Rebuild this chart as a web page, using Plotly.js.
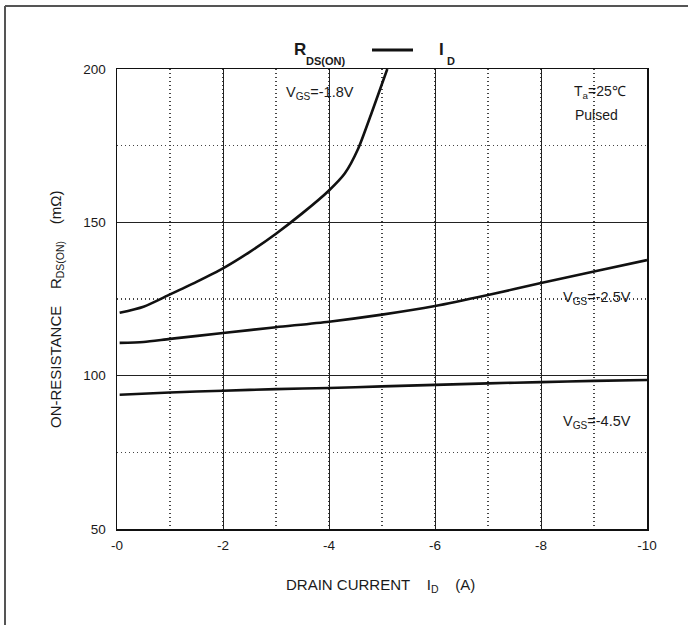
<!DOCTYPE html>
<html><head><meta charset="utf-8">
<script src="https://cdn.plot.ly/plotly-3.0.1.min.js"></script>
<style>html,body{margin:0;padding:0;background:#fff}#chart{width:688px;height:625px}</style>
</head><body><div id="chart"></div>
<script>
// ---- data ----
const xTickVals = [0, -2, -4, -6, -8, -10];
const xTickText = ["-0", "-2", "-4", "-6", "-8", "-10"];
const yTickVals = [50, 100, 150, 200];
const yTickText = ["50", "100", "150", "200"];

const id18 = [-0.05, -0.5, -1, -1.5, -2, -2.5, -3, -3.5, -4, -4.3, -4.55, -4.8, -5.1];
const r18  = [120.5, 122.5, 126.5, 130.6, 135.0, 140.3, 146.3, 153.0, 160.4, 166.0, 174.0, 185.5, 200.0];

const id25 = [-0.05, -0.5, -1, -2, -3, -4, -5, -6, -7, -8, -9, -10];
const r25  = [110.7, 111.0, 112.0, 113.9, 115.8, 117.6, 119.9, 122.7, 126.3, 130.2, 134.0, 137.7];

const id45 = [-0.05, -1, -2, -3, -4, -5, -6, -7, -8, -9, -10];
const r45  = [93.8, 94.5, 95.1, 95.6, 96.0, 96.5, 97.0, 97.5, 97.9, 98.3, 98.6];

// ---- layout helpers (pixel -> paper) ----
const L = 117, R = 41, T = 69, B = 96, W = 688, H = 625;
const pw = W - L - R, ph = H - T - B;
const px = x => (x - L) / pw;
const py = y => (H - B - y) / ph;

const FONT = "Liberation Sans, Arial, sans-serif";
const TXT = "#1a1a1a";
const line = {color: "#111", width: 2.6, shape: "spline", smoothing: 0.7};

const traces = [
  {x: id18, y: r18, mode: "lines", line: line, name: "VGS=-1.8V", hoverinfo: "x+y"},
  {x: id25, y: r25, mode: "lines", line: line, name: "VGS=-2.5V", hoverinfo: "x+y"},
  {x: id45, y: r45, mode: "lines", line: line, name: "VGS=-4.5V", hoverinfo: "x+y"}
];

const axisCommon = {
  showline: true, mirror: true, linecolor: "#111", linewidth: 1.5,
  showgrid: true, gridcolor: "#222", gridwidth: 1,
  zeroline: false, ticks: "", fixedrange: true,
  tickfont: {family: FONT, size: 13.5, color: TXT}
};

const dotGrid = {showgrid: true, gridcolor: "#444", griddash: "1.2px,2.8px", gridwidth: 1.2};

const layout = {
  width: W, height: H,
  margin: {l: L, r: R, t: T, b: B, pad: 0},
  paper_bgcolor: "#fff", plot_bgcolor: "#fff",
  showlegend: false,
  xaxis: Object.assign({}, axisCommon, {
    range: [0, -10], tickmode: "array", tickvals: xTickVals, ticktext: xTickText,
    ticklabelstandoff: 3,
    minor: Object.assign({tick0: 0, dtick: 1}, dotGrid)
  }),
  yaxis: Object.assign({}, axisCommon, {
    range: [50, 200], tickmode: "array", tickvals: yTickVals, ticktext: yTickText,
    ticklabelstandoff: 7,
    minor: Object.assign({tick0: 0, dtick: 25}, dotGrid)
  }),
  shapes: [
    // title dash
    {type: "line", xref: "paper", yref: "paper", x0: px(372), x1: px(413), y0: py(50), y1: py(50),
     line: {color: "#111", width: 3}},
    // outer frame (left and top)
    {type: "line", xref: "paper", yref: "paper", x0: px(5), x1: px(5), y0: py(6), y1: py(H + 5),
     line: {color: "#555", width: 2}},
    {type: "line", xref: "paper", yref: "paper", x0: px(5), x1: px(W + 5), y0: py(6), y1: py(6),
     line: {color: "#555", width: 2}}
  ],
  annotations: [
    {xref: "paper", yref: "paper", x: px(292), y: py(49), xanchor: "left", yanchor: "middle",
     text: "<b>R</b>", showarrow: false, font: {family: FONT, size: 17, color: TXT}},
    {xref: "paper", yref: "paper", x: px(304), y: py(61), xanchor: "left", yanchor: "middle",
     text: "<b>DS(ON)</b>", showarrow: false, font: {family: FONT, size: 11, color: TXT}},
    {xref: "paper", yref: "paper", x: px(437), y: py(49), xanchor: "left", yanchor: "middle",
     text: "<b>I</b>", showarrow: false, font: {family: FONT, size: 17, color: TXT}},
    {xref: "paper", yref: "paper", x: px(445), y: py(61), xanchor: "left", yanchor: "middle",
     text: "<b>D</b>", showarrow: false, font: {family: FONT, size: 11, color: TXT}},

    {xref: "paper", yref: "paper", x: px(284), y: py(93), xanchor: "left", yanchor: "middle",
     text: "V<sub>GS</sub>=-1.8V", showarrow: false, font: {family: FONT, size: 14.5, color: TXT}},
    {xref: "paper", yref: "paper", x: px(600), y: py(92), xanchor: "center", yanchor: "middle",
     text: "T<sub>a</sub>=25\u2103", showarrow: false, font: {family: FONT, size: 14, color: TXT}},
    {xref: "paper", yref: "paper", x: px(596), y: py(115), xanchor: "center", yanchor: "middle",
     text: "Pulsed", showarrow: false, font: {family: FONT, size: 14, color: TXT}},
    {xref: "paper", yref: "paper", x: px(561), y: py(298), xanchor: "left", yanchor: "middle",
     text: "V<sub>GS</sub>=-2.5V", showarrow: false, font: {family: FONT, size: 14.5, color: TXT}},
    {xref: "paper", yref: "paper", x: px(561), y: py(422), xanchor: "left", yanchor: "middle",
     text: "V<sub>GS</sub>=-4.5V", showarrow: false, font: {family: FONT, size: 14.5, color: TXT}},

    // axis titles
    {xref: "paper", yref: "paper", x: px(380), y: py(585), xanchor: "center", yanchor: "middle",
     text: "DRAIN CURRENT\u00A0\u00A0\u00A0\u00A0I<sub>D</sub>\u00A0\u00A0\u00A0\u00A0(A)", showarrow: false,
     font: {family: FONT, size: 15, color: TXT}},
    {xref: "paper", yref: "paper", x: px(56), y: py(310), xanchor: "center", yanchor: "middle",
     textangle: -90,
     text: "ON-RESISTANCE\u00A0\u00A0\u00A0\u00A0R<sub>DS(ON)</sub>\u00A0\u00A0\u00A0\u00A0(m\u03A9)", showarrow: false,
     font: {family: FONT, size: 15, color: TXT}}
  ]
};

Plotly.newPlot("chart", traces, layout, {displayModeBar: false, staticPlot: true});
</script>
</body></html>
